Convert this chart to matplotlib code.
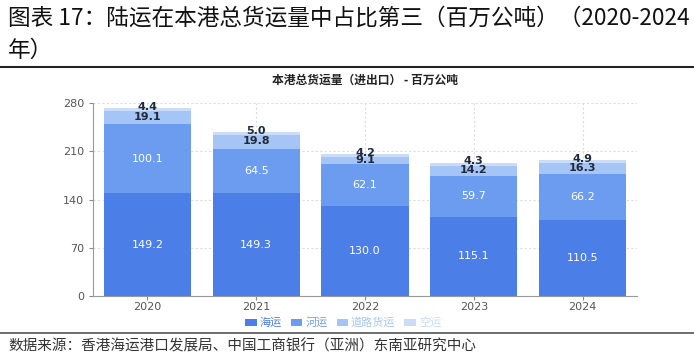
import matplotlib
matplotlib.use("Agg")
import matplotlib.pyplot as plt
from matplotlib.lines import Line2D

plt.rcParams['font.family'] = ['Noto Sans CJK SC', 'DejaVu Sans']

years = ["2020", "2021", "2022", "2023", "2024"]
series_names = ["海运", "河运", "道路货运", "空运"]
sea = [149.2, 149.3, 130.0, 115.1, 110.5]
river = [100.1, 64.5, 62.1, 59.7, 66.2]
road = [19.1, 19.8, 9.1, 14.2, 16.3]
air = [4.4, 5.0, 4.2, 4.3, 4.9]
yticks = [0, 70, 140, 210, 280]

colors = ["#4b7ee6", "#6b9cf0", "#a6c5f7", "#cbdcf8"]
label_colors = ["white", "white", "#1f2a3c", "#1f2a3c"]
label_shift = [0, 0, 1.0, 4.0]

fig = plt.figure(figsize=(6.94, 3.64), dpi=100)
ax = fig.add_axes([93/694, 1-296/364, (637-93)/694, (296-103)/364])

x = list(range(len(years)))
bottoms = [0]*len(years)
for vals, c, lc, name, sh in zip([sea, river, road, air], colors, label_colors, series_names, label_shift):
    ax.bar(x, vals, bottom=bottoms, width=0.8, color=c, zorder=3, label=name)
    for xi, v, b in zip(x, vals, bottoms):
        ax.text(xi, b + v/2 + sh, f"{v:.1f}", ha="center", va="center", fontsize=8,
                color=lc, fontweight="bold" if lc != "white" else "normal", zorder=4,
                family=['DejaVu Sans'])
    bottoms = [b + v for b, v in zip(bottoms, vals)]

ax.set_xlim(-0.5, len(years)-0.5)
ax.set_ylim(0, 280)
ax.set_yticks(yticks)
ax.set_xticks(x)
ax.set_xticklabels(years)
ax.tick_params(axis='both', colors="#888888", labelcolor="#555555", labelsize=8, length=3, width=0.8)
ax.tick_params(axis='x', pad=1.5)
for lab in ax.get_xticklabels() + ax.get_yticklabels():
    lab.set_family(['DejaVu Sans'])
ax.grid(True, linestyle=(0, (2, 2)), color="#dddddd", linewidth=0.8, zorder=0)
for s in ["top", "right"]:
    ax.spines[s].set_visible(False)
for s in ["left", "bottom"]:
    ax.spines[s].set_color("#999999")
    ax.spines[s].set_linewidth(0.8)

ax.set_title("本港总货运量（进出口） - 百万公吨", fontsize=8.5, fontweight="bold", color="#222222", pad=14)

leg = ax.legend(loc="upper center", bbox_to_anchor=(0.46, -0.06), ncol=4, frameon=False,
                fontsize=8, handlelength=1.0, handleheight=0.5, handletextpad=0.3, columnspacing=0.8)
for t, c in zip(leg.get_texts(), colors):
    t.set_color(c)

fig.text(8/694, 1-18/364, "图表 17：陆运在本港总货运量中占比第三（百万公吨）（2020-2024", fontsize=16.3,
         va="center", ha="left", color="#111111")
fig.text(8/694, 1-50/364, "年）", fontsize=16.3, va="center", ha="left", color="#111111")
fig.add_artist(Line2D([0, 1], [1-67/364, 1-67/364], color="#222222", linewidth=1.5, transform=fig.transFigure))
fig.add_artist(Line2D([0, 1], [1-333/364, 1-333/364], color="#555555", linewidth=1.2, transform=fig.transFigure))
fig.text(8/694, 1-346/364, "数据来源：香港海运港口发展局、中国工商银行（亚洲）东南亚研究中心", fontsize=10.5,
         va="center", ha="left", color="#333333", style="italic")

fig.savefig("out.png", dpi=100)
